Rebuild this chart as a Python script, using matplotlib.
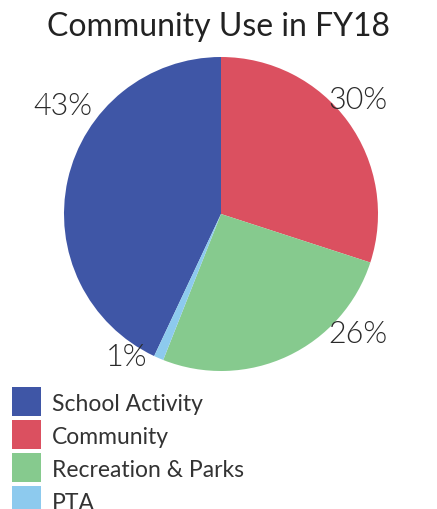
import matplotlib.pyplot as plt
from matplotlib.patches import Rectangle

# Community use shares for FY18
categories = ["School Activity", "Community", "Recreation & Parks", "PTA"]
shares = [43, 30, 26, 1]
colors = ["#3F56A6", "#DB5060", "#86CA8E", "#8DCAEE"]

# where each percentage label sits (in pie radius units)
label_pos = [(-1.01, 0.69), (0.87, 0.73), (0.87, -0.76), (-0.60, -0.91)]

plt.rcParams['font.family'] = ['Lato', 'DejaVu Sans']

W, H = 437, 510
fig = plt.figure(figsize=(W / 100, H / 100), dpi=100)
ax = fig.add_axes([64 / W, 1 - 372 / H, 314 / W, 314 / H])

# School Activity ends at 12 o'clock, the rest run clockwise from there
start = 90 + shares[0] / sum(shares) * 360
ax.pie(shares, colors=colors, startangle=start, counterclock=False,
       radius=1.0, wedgeprops=dict(linewidth=0))
ax.set_xlim(-1, 1)
ax.set_ylim(-1, 1)
ax.set_aspect('equal')
ax.axis('off')

for val, (x, y) in zip(shares, label_pos):
    ax.text(x, y, f"{val}%", ha='center', va='center', fontsize=22,
            fontweight=300, color='#2a2a2a', clip_on=False)

fig.text(0.5, 1 - 27 / H, "Community Use in FY18", ha='center', va='center',
         fontsize=23, color='#222222')

# legend: colour squares with labels, drawn in pixel units
box, step, top = 29, 33, 388
for i, (name, c) in enumerate(zip(categories, colors)):
    y0 = top + i * step
    fig.add_artist(Rectangle((12 / W, 1 - (y0 + box) / H), box / W, box / H,
                             transform=fig.transFigure, facecolor=c,
                             edgecolor='none'))
    fig.text(52 / W, 1 - (y0 + box / 2) / H, name, ha='left',
             va='center_baseline', fontsize=16.5, color='#333333')

fig.savefig("out.png", dpi=100)
